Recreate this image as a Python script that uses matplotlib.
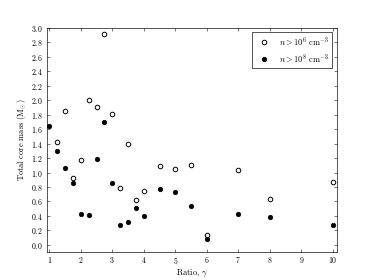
import matplotlib
matplotlib.use("Agg")
import matplotlib.pyplot as plt

# 軸上の値
ratio_lo = [1.25, 1.5, 1.75, 2.0, 2.25, 2.5, 2.75, 3.0, 3.25, 3.5,
            3.75, 4.0, 4.5, 5.0, 5.5, 6.0, 7.0, 8.0, 10.0]
mass_lo = [1.42, 1.85, 0.93, 1.18, 2.00, 1.90, 2.92, 1.81, 0.78, 1.40,
           0.62, 0.75, 1.09, 1.05, 1.10, 0.14, 1.03, 0.64, 0.87]

ratio_hi = [1.0, 1.25, 1.5, 1.75, 2.0, 2.25, 2.5, 2.75, 3.0, 3.25,
            3.5, 3.75, 4.0, 4.5, 5.0, 5.5, 6.0, 7.0, 8.0, 10.0]
mass_hi = [1.64, 1.30, 1.06, 0.85, 0.43, 0.41, 1.19, 1.70, 0.86, 0.27,
           0.31, 0.51, 0.40, 0.77, 0.73, 0.54, 0.08, 0.43, 0.38, 0.27]

label_lo = r"$n > 10^6$ cm$^{-3}$"
label_hi = r"$n > 10^8$ cm$^{-3}$"

xticks = list(range(1, 11))
yticks = [round(0.2 * i, 1) for i in range(16)]

plt.rcParams["font.family"] = "serif"
plt.rcParams["font.serif"] = ["cmr10", "DejaVu Serif"]
plt.rcParams["mathtext.fontset"] = "cm"
plt.rcParams["axes.unicode_minus"] = False

DPI = 46.75
fig = plt.figure(figsize=(8, 280 / DPI), dpi=DPI)
ax = fig.add_axes([0.125, 0.1, 0.775, 0.8])

ax.plot(ratio_lo, mass_lo, "o", mfc="white", mec="black", mew=1.5,
        ms=7, label=label_lo)
ax.plot(ratio_hi, mass_hi, "o", mfc="black", mec="black", mew=1.0,
        ms=7, label=label_hi)

ax.set_xlim(0.92, 10.12)
ax.set_ylim(-0.1, 3.0)
ax.set_xticks(xticks)
ax.set_yticks(yticks)
ax.set_xticklabels([f"${t}$" for t in xticks])
ax.set_yticklabels([f"${t:.1f}$" for t in yticks])
ax.tick_params(direction="in", top=True, right=True, labelsize=12,
               length=5, width=0.8)
ax.tick_params(axis="x", pad=5)
ax.tick_params(axis="y", pad=7)
for s in ax.spines.values():
    s.set_linewidth(1.0)

ax.set_xlabel(r"Ratio, $\gamma$", fontsize=13, labelpad=2)
ax.set_ylabel(r"Total core mass ($\rm M_{\odot}$)", fontsize=13)

leg = ax.legend(loc="upper right", numpoints=1, fontsize=13,
                fancybox=False, edgecolor="black", framealpha=1.0,
                borderaxespad=0.5)
leg.get_frame().set_linewidth(1.0)

fig.savefig("out.png", dpi=DPI)
